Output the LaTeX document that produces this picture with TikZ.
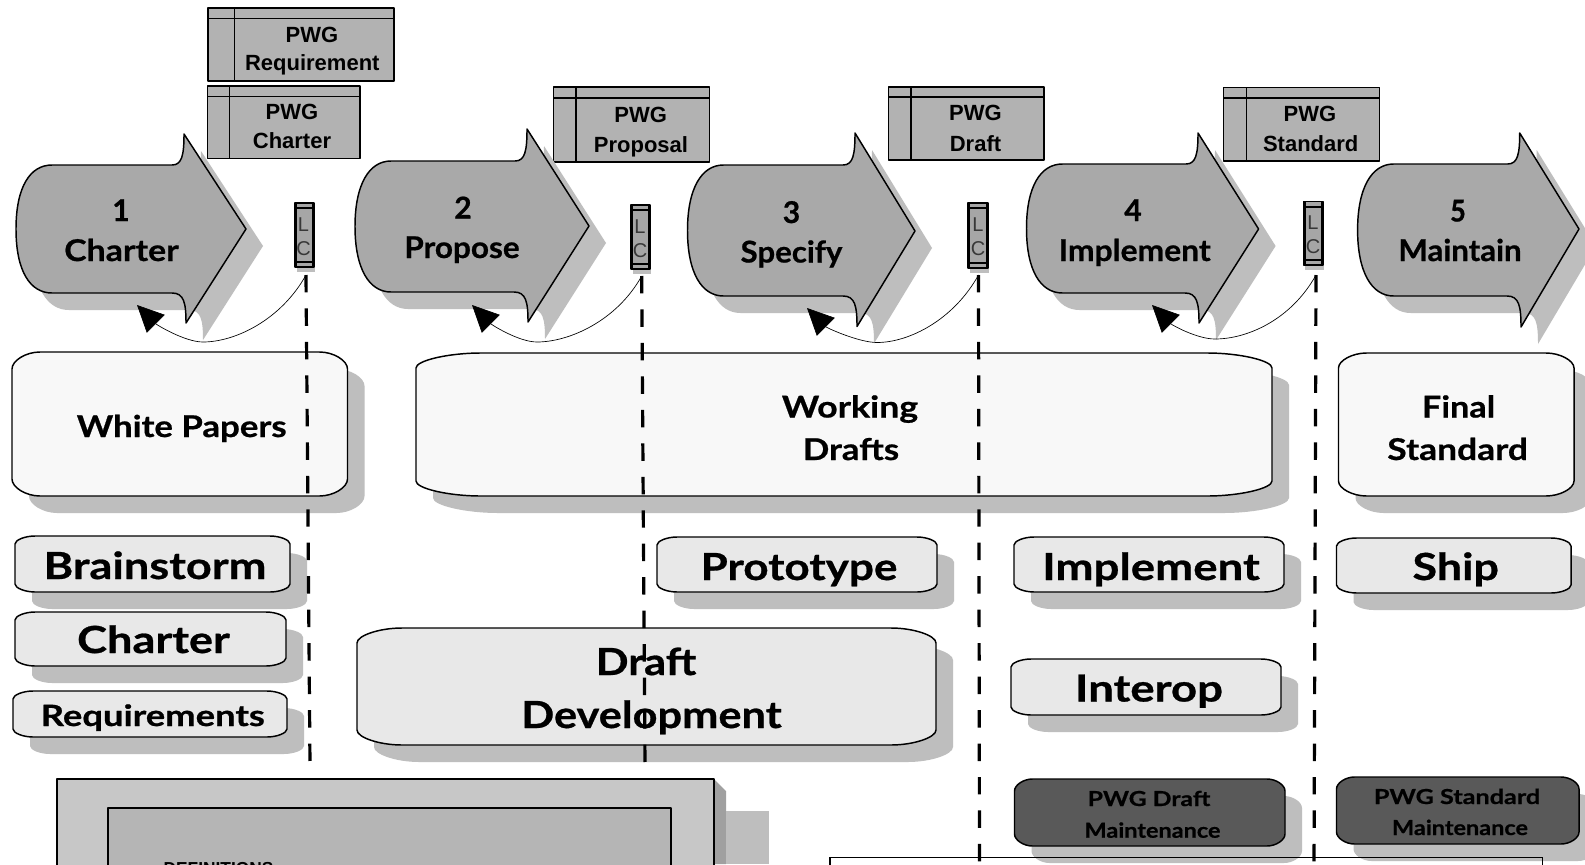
\documentclass[tikz,border=0pt]{standalone}
\usepackage{fontspec}
\setmainfont{Lato}
\newfontfamily\arialf{Liberation Sans}
\usetikzlibrary{arrows.meta}
\definecolor{shadowc}{HTML}{BEBEBE}
\definecolor{arrowc}{HTML}{A9A9A9}
\definecolor{pwgc}{HTML}{B2B2B2}
\definecolor{whitec}{HTML}{F8F8F8}
\definecolor{lightc}{HTML}{E8E8E8}
\definecolor{darkc}{HTML}{595959}
\definecolor{lcc}{HTML}{A6A6A6}
\tikzset{
  x=0.75pt,y=-0.75pt,
  shad/.style={fill=shadowc,draw=none,shift={(17,17)}},
  edge/.style={draw=black,line width=1.1pt,line join=round},
  gill/.style={inner sep=0pt,anchor=base,font=\bfseries,text=black},
  arl/.style={inner sep=0pt,anchor=base,font=\arialf\bfseries\fontsize{16.5}{16.5}\selectfont,text=black},
  lcfont/.style={inner sep=0pt,anchor=base,font=\arialf\fontsize{15}{15}\selectfont,text=black!78},
  lifeline/.style={draw=black,line width=2.4pt,dash pattern=on 13.1pt off 12pt},
  curve/.style={draw=black,line width=0.5pt,-{Triangle[length=20pt,width=19pt]}}
}
\newcommand\softpath[6]{({#1+#5},#2) -- ({#3-#5},#2) .. controls ({#3-0.5*#5},#2) and (#3,{#2+0.5*#6}) .. (#3,{#2+#6}) -- (#3,{#4-#6}) .. controls (#3,{#4-0.5*#6}) and ({#3-0.5*#5},#4) .. ({#3-#5},#4) -- ({#1+#5},#4) .. controls ({#1+0.5*#5},#4) and (#1,{#4-0.5*#6}) .. (#1,{#4-#6}) -- (#1,{#2+#6}) .. controls (#1,{#2+0.5*#6}) and ({#1+0.5*#5},#2) .. ({#1+#5},#2) -- cycle}
\newcommand\softbox[7]{%
  \path[shad] \softpath{#1}{#2}{#3}{#4}{#5}{#6};
  \path[edge,fill=#7] \softpath{#1}{#2}{#3}{#4}{#5}{#6};}
% args: L T B  hx hy  tx ty  bx by
\newcommand\procpath[9]{({#1+36},#2) -- ({#4-12},#2) .. controls ({#4-2},#2) and (#4,{#2-10}) .. (#4,{#5}) -- (#6,#7) -- (#8,#9) .. controls (#8,{#3+10}) and ({#8-2},#3) .. ({#8-14},#3) -- ({#1+36},#3) .. controls ({#1+14},#3) and (#1,{(#2+#3)/2+42}) .. (#1,{(#2+#3)/2}) .. controls (#1,{(#2+#3)/2-42}) and ({#1+14},#2) .. ({#1+36},#2) -- cycle}
\newcommand\procarrow[9]{%
  \path[shad] \procpath{#1}{#2}{#3}{#4}{#5}{#6}{#7}{#8}{#9};
  \path[edge,fill=arrowc] \procpath{#1}{#2}{#3}{#4}{#5}{#6}{#7}{#8}{#9};}
% x1 y1 x2 y2 headerY vertX
\newcommand\pwgbox[6]{%
  \path[edge,fill=pwgc] (#1,#2) rectangle (#3,#4);
  \draw[line width=1.1pt] (#1,#5) -- (#3,#5) (#6,#2) -- (#6,#4);}
\newcommand\lcbox[4]{%
  \fill[shadowc] ({#1+2},{#4-2}) rectangle ({#3+1},{#4+5});
  \path[edge,fill=lcc] (#1,#2) rectangle (#3,#4);
  \draw[line width=1.3pt] (#1,{#2+5}) -- (#3,{#2+5}) ({#1},{#4-5}) -- ({#3},{#4-5});
  \draw[line width=1.3pt] ({#1+1.5},#2) -- ({#1+1.5},#4) ({#3-1.5},#2) -- ({#3-1.5},#4);}
% name x y size stretch text
\newcommand\gl[6]{\node[gill,font=\bfseries\addfontfeature{FakeStretch=#5,FakeBold=0.7}\fontsize{#4}{#4}\selectfont] (#1) at (#2,#3) {#6};}
\newcommand\al[4]{\node[arl] (#1) at (#2,#3) {#4};}
\begin{document}
\begin{tikzpicture}
\useasboundingbox (0,0) rectangle (1585,864);
\clip (0,0) rectangle (1585,864);
\fill[white] (0,0) rectangle (1585,864);

% PWG document boxes
\pwgbox{208}{8}{394}{81}{18.5}{234.5}
\pwgbox{207.5}{86}{360}{158.5}{96.5}{229.5}
\pwgbox{553.5}{87}{709.5}{162}{98}{576}
\pwgbox{888.5}{87}{1044}{160}{97}{911}
\pwgbox{1223.4}{87.3}{1379.6}{161}{98}{1246.5}
\al{pa}{312}{42.5}{PWG}
\al{pb}{312.3}{70.8}{Requirement}
\al{pc}{292}{119.5}{PWG}
\al{pd}{292}{148.8}{Charter}
\al{pe}{640.7}{122}{PWG}
\al{pf}{641}{152.5}{Proposal}
\al{pg}{975.5}{120.5}{PWG}
\al{ph}{975.5}{151}{Draft}
\al{pi}{1310}{121.5}{PWG}
\al{pj}{1310.7}{151.5}{Standard}

% Phase arrows
\procarrow{16}{165}{293}{184}{134}{246}{229}{186}{323}
\procarrow{355}{161}{292}{527}{129}{589}{226}{528}{322}
\procarrow{687.5}{165}{296}{855}{133}{915}{231}{857}{326.5}
\procarrow{1026.5}{164}{293}{1198}{133}{1258.6}{229}{1199}{323}
\procarrow{1357.6}{164}{296}{1519.7}{133}{1579}{229}{1521}{327}
\gl{na}{121}{221}{22.5}{1}{1}
\gl{nb}{121.5}{261}{22.5}{1.13}{Charter}
\gl{nc}{463}{218.5}{22.5}{1}{2}
\gl{nd}{462}{258}{22.5}{1.05}{Propose}
\gl{ne}{791.5}{223}{22.5}{1}{3}
\gl{nf}{791.5}{262.5}{22.5}{1.04}{Specify}
\gl{ng}{1133}{221}{22.5}{1}{4}
\gl{nh}{1134.7}{261}{22.5}{1.06}{Implement}
\gl{ni}{1458}{221.5}{22.5}{0.9}{5}
\gl{nj}{1460}{261}{22.5}{1.04}{Maintain}

% Ballot markers
\lcbox{295}{203}{314}{267}
\lcbox{631}{205}{650}{269}
\lcbox{968}{203}{988}{268}
\lcbox{1303.4}{201.7}{1323}{265}
\node[lcfont] (la) at (303.5,231) {L}; \node[lcfont] (lb) at (303.5,255) {C};
\node[lcfont] (lc) at (640,233) {L}; \node[lcfont] (ld) at (640,257) {C};
\node[lcfont] (le) at (978,231) {L}; \node[lcfont] (lf) at (978,255) {C};
\node[lcfont] (lg) at (1313,229) {L}; \node[lcfont] (lh) at (1313,253) {C};

% Stage boxes
\softbox{12}{352}{347.5}{496}{28}{17}{whitec}
\softbox{416}{353}{1272}{496}{65}{15}{whitec}
\softbox{1338.5}{353}{1574}{496}{28}{15}{whitec}
\softbox{15}{536}{290}{592}{20}{8}{lightc}
\softbox{15}{612}{286}{666}{20}{8}{lightc}
\softbox{13}{691}{287}{737}{20}{8}{lightc}
\softbox{657}{537}{937}{592}{20}{8}{lightc}
\softbox{357}{628}{936}{745}{45}{15}{lightc}
\softbox{1014}{537}{1284}{592}{20}{8}{lightc}
\softbox{1011}{659}{1281}{715}{20}{8}{lightc}
\softbox{1336.5}{538}{1571}{593}{20}{8}{lightc}
\softbox{1014.5}{779}{1285}{846}{18}{12}{darkc}
\softbox{1336.5}{777}{1579}{844}{18}{12}{darkc}

\gl{ta}{181.7}{437}{22.5}{1.16}{White Papers}
\gl{tb}{850}{417.5}{22.5}{1.19}{Working}
\gl{tc}{851}{460}{22.5}{1.16}{Drafts}
\gl{td}{1458.6}{417.5}{22.5}{1.14}{Final}
\gl{te}{1457.6}{460}{22.5}{1.18}{Standard}
\gl{tf}{155}{579}{28}{1.21}{Brainstorm}
\gl{tg}{153.5}{653}{28}{1.21}{Charter}
\gl{th}{152.8}{726}{22}{1.24}{Requirements}
\gl{ti}{799}{580}{28}{1.18}{Prototype}
\gl{tj}{646}{675}{28}{1.16}{Draft}
\gl{tk}{651.5}{728}{28}{1.16}{Development}
\gl{tl}{1151}{580}{28}{1.22}{Implement}
\gl{tm}{1149}{701.5}{28}{1.22}{Interop}
\gl{tn}{1455.7}{580}{28}{1.2}{Ship}
\gl{to}{1149}{806}{15.5}{1.2}{PWG Draft}
\gl{tp}{1152.5}{837.7}{15.5}{1.135}{Maintenance}
\gl{tq}{1457}{804}{15.5}{1.22}{PWG Standard}
\gl{tr}{1460}{835}{15.5}{1.135}{Maintenance}

% Bottom panels
\fill[pwgc!90!black] (714,779) -- (726,791) -- (726,864) -- (714,864) -- cycle;
\fill[shadowc] (726,811) rectangle (769,864);
\path[edge,fill=black!22] (57,779) rectangle (714,880);
\path[edge,line width=1.6pt,fill=black!29] (108,808) rectangle (671,880);
\node[inner sep=0pt,anchor=base,font=\arialf\bfseries\fontsize{13}{13}\selectfont] (defs) at (218.5,874.5) {DEFINITIONS};
\draw[line width=1pt] (830,880) -- (830,857.7) -- (1542.5,857.7) -- (1542.5,880);

% Life lines
\coordinate (ta) at (306,275); \coordinate (ba) at (310,765);
\coordinate (tb) at (641.7,276); \coordinate (bb) at (645,766);
\coordinate (tc) at (978.5,275); \coordinate (bc) at (979.5,870);
\coordinate (td) at (1316,275); \coordinate (bd) at (1314,870);
\foreach \i in {a,b,c,d} \draw[lifeline] (t\i) -- (b\i);

% Ballot return curves
\coordinate (ea) at (137,305); \coordinate (eb) at (472,305); \coordinate (ec) at (807,308); \coordinate (ed) at (1152,305);
\draw[curve] (ta) .. controls +(-25,45) and +(32,0) .. (203,342) .. controls +(-18,0) and +(20,20) .. (ea);
\draw[curve] (tb) .. controls +(-25,45) and +(32,0) .. (537,342) .. controls +(-18,0) and +(20,20) .. (eb);
\draw[curve] (tc) .. controls +(-25,45) and +(32,0) .. (877,342.5) .. controls +(-18,0) and +(20,20) .. (ec);
\draw[curve] (td) .. controls +(-25,45) and +(32,0) .. (1215,339) .. controls +(-18,0) and +(20,20) .. (ed);
\end{tikzpicture}
\end{document}
